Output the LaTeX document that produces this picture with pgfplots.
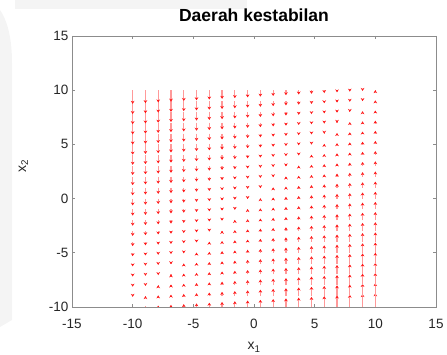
\documentclass[border=0pt]{standalone}
\usepackage{fontspec}
\setmainfont{Liberation Sans}
\usepackage{pgfplots}
\pgfplotsset{compat=1.18}
\usetikzlibrary{arrows.meta}
\begin{document}
\begin{tikzpicture}
\useasboundingbox (0,0) rectangle (447pt,355pt);
\fill[gray!9] (15pt,346pt) rectangle (247pt,355pt);
\fill[gray!9] (0pt,345pt) .. controls (9pt,332pt) and (12pt,312pt) .. (12pt,292pt) -- (12pt,35pt) -- (0pt,28pt) -- cycle;
\begin{axis}[
  at={(72pt,48pt)}, anchor=south west,
  scale only axis, width=364pt, height=271pt,
  xmin=-15, xmax=15, ymin=-10, ymax=15,
  xtick={-15,-10,...,15}, ytick={-10,-5,...,15},
  tick align=inside, major tick length=3pt,
  axis line style={black!45, line width=0.6pt},
  every tick/.style={black!45, line width=0.6pt},
  /pgf/number format/assume math mode=true,
  tick label style={font=\fontsize{13.5}{16}\selectfont, text=black!85},
  xticklabel style={yshift=-9pt},
  title={\textbf{Daerah kestabilan}},
  title style={font=\fontsize{17.5}{20}\selectfont, at={(axis description cs:0.5,1)}, anchor=base, yshift=8pt},
  xlabel={x\textsubscript{1}},
  ylabel={x\textsubscript{2}},
  label style={font=\fontsize{14}{16}\selectfont, text=black!85},
  xlabel style={at={(axis description cs:0.5,0)}, anchor=base, yshift=-43pt},
  ylabel style={at={(axis description cs:0,0.52)}, anchor=base, rotate=0, yshift=46pt},
]
\addplot[color=red!40,
  quiver={u=0, v=\thisrow{d}, scale arrows=0.063,
    every arrow/.append style={line width=1.3pt, color=red!40, -{Stealth[length=3pt,width=3.6pt,color=red!90]}}}]
table[x=x, y=y] {
x y d
-10 -10 0.02
-10 -9 -1
-10 -8 -2
-10 -7 -3
-10 -6 -4
-10 -5 -5
-10 -4 -6
-10 -3 -7
-10 -2 -8
-10 -1 -9
-10 0 -10
-10 1 -11
-10 2 -12
-10 3 -13
-10 4 -14
-10 5 -15
-10 6 -16
-10 7 -17
-10 8 -18
-10 9 -19
-10 10 -20
-8.947 -10 1.05
-8.947 -9 0.05
-8.947 -8 -0.95
-8.947 -7 -1.95
-8.947 -6 -2.95
-8.947 -5 -3.95
-8.947 -4 -4.95
-8.947 -3 -5.95
-8.947 -2 -6.95
-8.947 -1 -7.95
-8.947 0 -8.95
-8.947 1 -9.95
-8.947 2 -10.95
-8.947 3 -11.95
-8.947 4 -12.95
-8.947 5 -13.95
-8.947 6 -14.95
-8.947 7 -15.95
-8.947 8 -16.95
-8.947 9 -17.95
-8.947 10 -18.95
-7.895 -10 2.11
-7.895 -9 1.11
-7.895 -8 0.11
-7.895 -7 -0.89
-7.895 -6 -1.89
-7.895 -5 -2.89
-7.895 -4 -3.89
-7.895 -3 -4.89
-7.895 -2 -5.89
-7.895 -1 -6.89
-7.895 0 -7.89
-7.895 1 -8.89
-7.895 2 -9.89
-7.895 3 -10.89
-7.895 4 -11.89
-7.895 5 -12.89
-7.895 6 -13.89
-7.895 7 -14.89
-7.895 8 -15.89
-7.895 9 -16.89
-7.895 10 -17.89
-6.842 -10 3.16
-6.842 -9 2.16
-6.842 -8 1.16
-6.842 -7 0.16
-6.842 -6 -0.84
-6.842 -5 -1.84
-6.842 -4 -2.84
-6.842 -3 -3.84
-6.842 -2 -4.84
-6.842 -1 -5.84
-6.842 0 -6.84
-6.842 1 -7.84
-6.842 2 -8.84
-6.842 3 -9.84
-6.842 4 -10.84
-6.842 5 -11.84
-6.842 6 -12.84
-6.842 7 -13.84
-6.842 8 -14.84
-6.842 9 -15.84
-6.842 10 -16.84
-5.789 -10 4.21
-5.789 -9 3.21
-5.789 -8 2.21
-5.789 -7 1.21
-5.789 -6 0.21
-5.789 -5 -0.79
-5.789 -4 -1.79
-5.789 -3 -2.79
-5.789 -2 -3.79
-5.789 -1 -4.79
-5.789 0 -5.79
-5.789 1 -6.79
-5.789 2 -7.79
-5.789 3 -8.79
-5.789 4 -9.79
-5.789 5 -10.79
-5.789 6 -11.79
-5.789 7 -12.79
-5.789 8 -13.79
-5.789 9 -14.79
-5.789 10 -15.79
-4.737 -10 5.26
-4.737 -9 4.26
-4.737 -8 3.26
-4.737 -7 2.26
-4.737 -6 1.26
-4.737 -5 0.26
-4.737 -4 -0.74
-4.737 -3 -1.74
-4.737 -2 -2.74
-4.737 -1 -3.74
-4.737 0 -4.74
-4.737 1 -5.74
-4.737 2 -6.74
-4.737 3 -7.74
-4.737 4 -8.74
-4.737 5 -9.74
-4.737 6 -10.74
-4.737 7 -11.74
-4.737 8 -12.74
-4.737 9 -13.74
-4.737 10 -14.74
-3.684 -10 6.32
-3.684 -9 5.32
-3.684 -8 4.32
-3.684 -7 3.32
-3.684 -6 2.32
-3.684 -5 1.32
-3.684 -4 0.32
-3.684 -3 -0.68
-3.684 -2 -1.68
-3.684 -1 -2.68
-3.684 0 -3.68
-3.684 1 -4.68
-3.684 2 -5.68
-3.684 3 -6.68
-3.684 4 -7.68
-3.684 5 -8.68
-3.684 6 -9.68
-3.684 7 -10.68
-3.684 8 -11.68
-3.684 9 -12.68
-3.684 10 -13.68
-2.632 -10 7.37
-2.632 -9 6.37
-2.632 -8 5.37
-2.632 -7 4.37
-2.632 -6 3.37
-2.632 -5 2.37
-2.632 -4 1.37
-2.632 -3 0.37
-2.632 -2 -0.63
-2.632 -1 -1.63
-2.632 0 -2.63
-2.632 1 -3.63
-2.632 2 -4.63
-2.632 3 -5.63
-2.632 4 -6.63
-2.632 5 -7.63
-2.632 6 -8.63
-2.632 7 -9.63
-2.632 8 -10.63
-2.632 9 -11.63
-2.632 10 -12.63
-1.579 -10 8.42
-1.579 -9 7.42
-1.579 -8 6.42
-1.579 -7 5.42
-1.579 -6 4.42
-1.579 -5 3.42
-1.579 -4 2.42
-1.579 -3 1.42
-1.579 -2 0.42
-1.579 -1 -0.58
-1.579 0 -1.58
-1.579 1 -2.58
-1.579 2 -3.58
-1.579 3 -4.58
-1.579 4 -5.58
-1.579 5 -6.58
-1.579 6 -7.58
-1.579 7 -8.58
-1.579 8 -9.58
-1.579 9 -10.58
-1.579 10 -11.58
-0.526 -10 9.47
-0.526 -9 8.47
-0.526 -8 7.47
-0.526 -7 6.47
-0.526 -6 5.47
-0.526 -5 4.47
-0.526 -4 3.47
-0.526 -3 2.47
-0.526 -2 1.47
-0.526 -1 0.47
-0.526 0 -0.53
-0.526 1 -1.53
-0.526 2 -2.53
-0.526 3 -3.53
-0.526 4 -4.53
-0.526 5 -5.53
-0.526 6 -6.53
-0.526 7 -7.53
-0.526 8 -8.53
-0.526 9 -9.53
-0.526 10 -10.53
0.526 -10 10.53
0.526 -9 9.53
0.526 -8 8.53
0.526 -7 7.53
0.526 -6 6.53
0.526 -5 5.53
0.526 -4 4.53
0.526 -3 3.53
0.526 -2 2.53
0.526 -1 1.53
0.526 0 0.53
0.526 1 -0.47
0.526 2 -1.47
0.526 3 -2.47
0.526 4 -3.47
0.526 5 -4.47
0.526 6 -5.47
0.526 7 -6.47
0.526 8 -7.47
0.526 9 -8.47
0.526 10 -9.47
1.579 -10 11.58
1.579 -9 10.58
1.579 -8 9.58
1.579 -7 8.58
1.579 -6 7.58
1.579 -5 6.58
1.579 -4 5.58
1.579 -3 4.58
1.579 -2 3.58
1.579 -1 2.58
1.579 0 1.58
1.579 1 0.58
1.579 2 -0.42
1.579 3 -1.42
1.579 4 -2.42
1.579 5 -3.42
1.579 6 -4.42
1.579 7 -5.42
1.579 8 -6.42
1.579 9 -7.42
1.579 10 -8.42
2.632 -10 12.63
2.632 -9 11.63
2.632 -8 10.63
2.632 -7 9.63
2.632 -6 8.63
2.632 -5 7.63
2.632 -4 6.63
2.632 -3 5.63
2.632 -2 4.63
2.632 -1 3.63
2.632 0 2.63
2.632 1 1.63
2.632 2 0.63
2.632 3 -0.37
2.632 4 -1.37
2.632 5 -2.37
2.632 6 -3.37
2.632 7 -4.37
2.632 8 -5.37
2.632 9 -6.37
2.632 10 -7.37
3.684 -10 13.68
3.684 -9 12.68
3.684 -8 11.68
3.684 -7 10.68
3.684 -6 9.68
3.684 -5 8.68
3.684 -4 7.68
3.684 -3 6.68
3.684 -2 5.68
3.684 -1 4.68
3.684 0 3.68
3.684 1 2.68
3.684 2 1.68
3.684 3 0.68
3.684 4 -0.32
3.684 5 -1.32
3.684 6 -2.32
3.684 7 -3.32
3.684 8 -4.32
3.684 9 -5.32
3.684 10 -6.32
4.737 -10 14.74
4.737 -9 13.74
4.737 -8 12.74
4.737 -7 11.74
4.737 -6 10.74
4.737 -5 9.74
4.737 -4 8.74
4.737 -3 7.74
4.737 -2 6.74
4.737 -1 5.74
4.737 0 4.74
4.737 1 3.74
4.737 2 2.74
4.737 3 1.74
4.737 4 0.74
4.737 5 -0.26
4.737 6 -1.26
4.737 7 -2.26
4.737 8 -3.26
4.737 9 -4.26
4.737 10 -5.26
5.789 -10 15.79
5.789 -9 14.79
5.789 -8 13.79
5.789 -7 12.79
5.789 -6 11.79
5.789 -5 10.79
5.789 -4 9.79
5.789 -3 8.79
5.789 -2 7.79
5.789 -1 6.79
5.789 0 5.79
5.789 1 4.79
5.789 2 3.79
5.789 3 2.79
5.789 4 1.79
5.789 5 0.79
5.789 6 -0.21
5.789 7 -1.21
5.789 8 -2.21
5.789 9 -3.21
5.789 10 -4.21
6.842 -10 16.84
6.842 -9 15.84
6.842 -8 14.84
6.842 -7 13.84
6.842 -6 12.84
6.842 -5 11.84
6.842 -4 10.84
6.842 -3 9.84
6.842 -2 8.84
6.842 -1 7.84
6.842 0 6.84
6.842 1 5.84
6.842 2 4.84
6.842 3 3.84
6.842 4 2.84
6.842 5 1.84
6.842 6 0.84
6.842 7 -0.16
6.842 8 -1.16
6.842 9 -2.16
6.842 10 -3.16
7.895 -10 17.89
7.895 -9 16.89
7.895 -8 15.89
7.895 -7 14.89
7.895 -6 13.89
7.895 -5 12.89
7.895 -4 11.89
7.895 -3 10.89
7.895 -2 9.89
7.895 -1 8.89
7.895 0 7.89
7.895 1 6.89
7.895 2 5.89
7.895 3 4.89
7.895 4 3.89
7.895 5 2.89
7.895 6 1.89
7.895 7 0.89
7.895 8 -0.11
7.895 9 -1.11
7.895 10 -2.11
8.947 -10 18.95
8.947 -9 17.95
8.947 -8 16.95
8.947 -7 15.95
8.947 -6 14.95
8.947 -5 13.95
8.947 -4 12.95
8.947 -3 11.95
8.947 -2 10.95
8.947 -1 9.95
8.947 0 8.95
8.947 1 7.95
8.947 2 6.95
8.947 3 5.95
8.947 4 4.95
8.947 5 3.95
8.947 6 2.95
8.947 7 1.95
8.947 8 0.95
8.947 9 -0.05
8.947 10 -1.05
10 -10 20
10 -9 19
10 -8 18
10 -7 17
10 -6 16
10 -5 15
10 -4 14
10 -3 13
10 -2 12
10 -1 11
10 0 10
10 1 9
10 2 8
10 3 7
10 4 6
10 5 5
10 6 4
10 7 3
10 8 2
10 9 1
10 10 0.02
};
\end{axis}
\end{tikzpicture}
\end{document}
